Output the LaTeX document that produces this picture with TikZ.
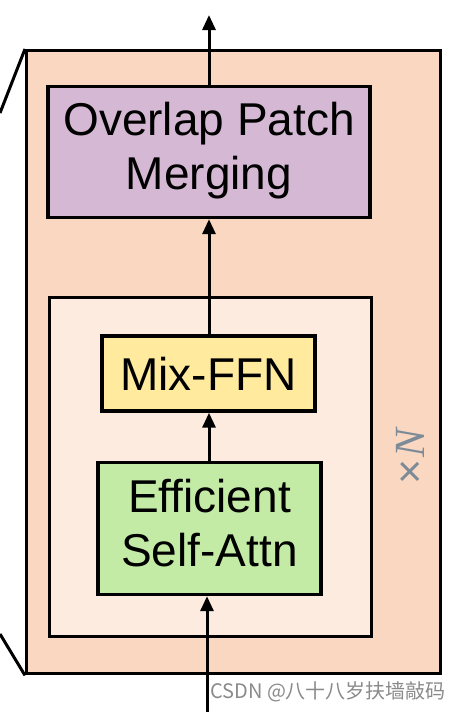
\documentclass[tikz,border=0pt]{standalone}
\usepackage{fontspec}
\setmainfont{Liberation Sans}
\newfontfamily\serifit{Liberation Serif}
\newfontfamily\cjkfont{Noto Sans CJK SC}
\usetikzlibrary{arrows.meta}
\definecolor{outerfill}{HTML}{F9D7C0}
\definecolor{innerfill}{HTML}{FCEBDE}
\definecolor{purplefill}{HTML}{D5B9D4}
\definecolor{yellowfill}{HTML}{FFEA9E}
\definecolor{greenfill}{HTML}{C3EBA6}
\definecolor{ncolor}{HTML}{7D8B98}
\definecolor{wmcolor}{HTML}{8A8A8A}
\tikzset{
  frame/.style={draw=black, line width=3.4pt},
  blockbox/.style={frame, inner sep=0pt, align=center,
    font=\fontsize{46}{54}\selectfont},
  flow/.style={line width=3pt, -{Triangle[length=15pt,width=13pt]}},
}
\begin{document}
\begin{tikzpicture}[x=1pt,y=-1pt]
\useasboundingbox (0,0) rectangle (455,712);
% outer stage box
\node[frame, fill=outerfill, minimum width=414pt, minimum height=623pt, anchor=north west] (outer) at (25,49) {};
\coordinate (tl) at (0,113);
\coordinate (bl) at (0,634);
\draw[line width=3pt] (tl) -- (outer.north west);
\draw[line width=3pt] (bl) -- (outer.south west);
% inner repeated block
\node[frame, fill=innerfill, minimum width=322pt, minimum height=339pt, anchor=north west] (inner) at (48,296) {};
% blocks
\node[blockbox, fill=purplefill, minimum width=322pt, minimum height=131pt] (opm) at (209,152) {\raisebox{-5pt}{\begin{tabular}{@{}c@{}}Overlap Patch\\Merging\end{tabular}}};
\node[blockbox, fill=yellowfill, minimum width=213pt, minimum height=75pt] (mix) at (208.5,373.5) {Mix-FFN};
\node[blockbox, fill=greenfill, minimum width=223pt, minimum height=132pt] (eff) at (209.5,528.5) {\raisebox{-2pt}{\begin{tabular}{@{}c@{}}Efficient\\Self-Attn\end{tabular}}};
% xN
\node[text=ncolor, rotate=90, font=\fontsize{43}{43}\selectfont] (xn) at (410,457) {×\kern2pt{\serifit\itshape N}};
% connectors
\coordinate (in) at (207,712);
\coordinate (out) at (209,15);
\draw[flow] (in) -- (in |- eff.south);
\draw[flow] (eff.north -| 209,0) -- (mix.south -| 209,0);
\draw[flow] (mix.north -| 209,0) -- (opm.south -| 209,0);
\draw[flow] (opm.north -| 209,0) -- (out);
% watermark
\node[text=wmcolor, font=\cjkfont\fontsize{20}{20}\selectfont, anchor=west, inner sep=0pt] (wm) at (210,692) {CSDN @八十八岁扶墙敲码};
\end{tikzpicture}
\end{document}
